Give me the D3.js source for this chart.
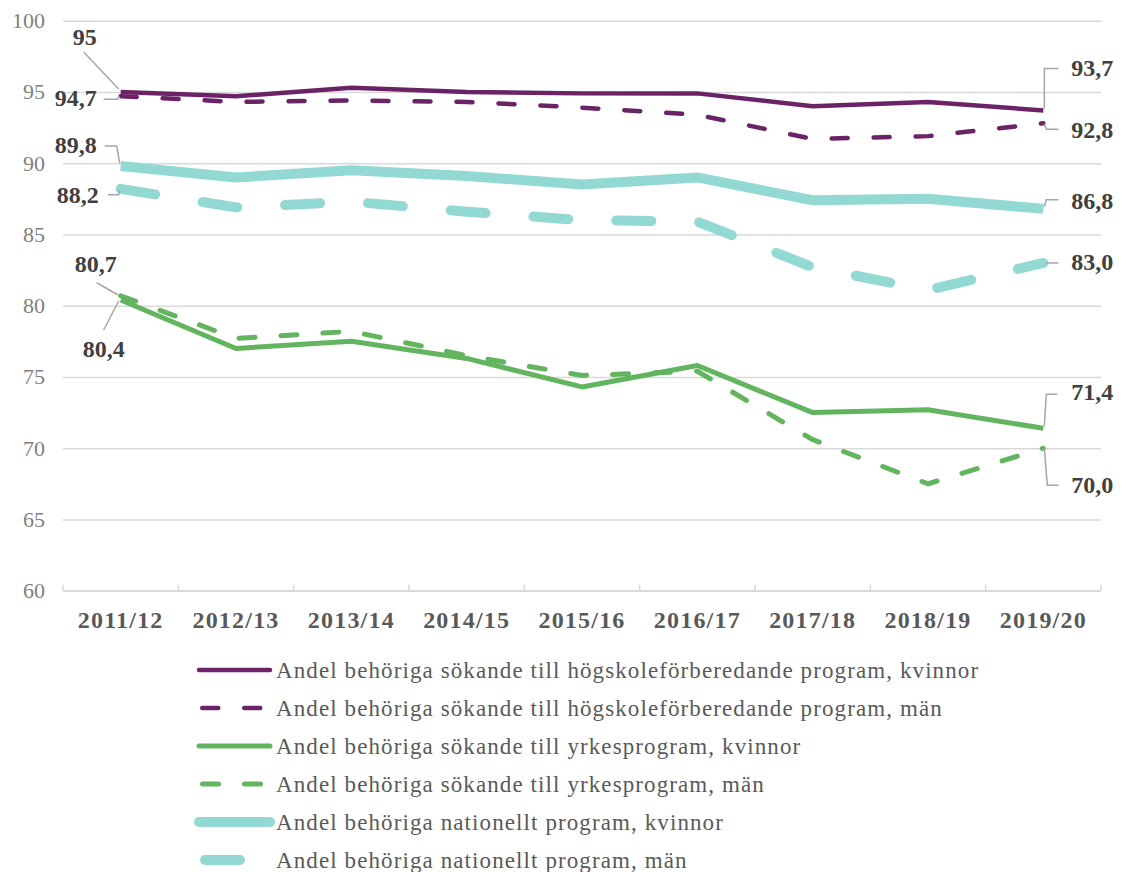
<!DOCTYPE html>
<html>
<head>
<meta charset="utf-8">
<script src="https://cdn.jsdelivr.net/npm/d3@7"></script>
<style>
  body { margin:0; background:#fff; }
  svg text { font-family: "Liberation Serif", "DejaVu Serif", serif; }
</style>
</head>
<body>
<div id="plot"></div>
<script>
//data
var categories = ['2011/12','2012/13','2013/14','2014/15','2015/16','2016/17','2017/18','2018/19','2019/20'];
var hogKvinnor = [95.0, 94.7, 95.3, 95.0, 94.9, 94.9, 94.0, 94.3, 93.7];
var hogMan     = [94.7, 94.3, 94.4, 94.3, 93.9, 93.4, 91.7, 91.9, 92.8];
var yrkKvinnor = [80.4, 77.0, 77.5, 76.3, 74.3, 75.8, 72.5, 72.7, 71.4];
var yrkMan     = [80.7, 77.7, 78.2, 76.5, 75.1, 75.4, 70.6, 67.5, 70.0];
var natKvinnor = [89.8, 89.0, 89.5, 89.1, 88.5, 89.0, 87.4, 87.5, 86.8];
var natMan     = [88.2, 86.9, 87.3, 86.6, 86.0, 85.9, 82.7, 81.1, 83.0];
var yTicks = [60, 65, 70, 75, 80, 85, 90, 95, 100];
var seriesNames = [
  'Andel behöriga sökande till högskoleförberedande program, kvinnor',
  'Andel behöriga sökande till högskoleförberedande program, män',
  'Andel behöriga sökande till yrkesprogram, kvinnor',
  'Andel behöriga sökande till yrkesprogram, män',
  'Andel behöriga nationellt program, kvinnor',
  'Andel behöriga nationellt program, män'
];
var seriesValues = [hogKvinnor, hogMan, yrkKvinnor, yrkMan, natKvinnor, natMan];

//styles per series
var styles = [
  {color:'#6b2367', w:4.5, dash:null},
  {color:'#6b2367', w:4.5, dash:'16,26'},
  {color:'#62b45f', w:5, dash:null},
  {color:'#62b45f', w:5, dash:'16,26'},
  {color:'#93d9d3', w:10, dash:null},
  {color:'#93d9d3', w:10, dash:'35,48'}
];

var W = 1127, H = 872;
var plotL = 63, plotR = 1101, plotT = 20.7, plotB = 590.7;

var svg = d3.select('#plot').append('svg')
    .attr('width', W)
    .attr('height', H);

var x = d3.scaleBand().domain(categories).range([plotL, plotR]).padding(0);
var y = d3.scaleLinear().domain([60, 100]).range([plotB, plotT]);
var cx = function(c){ return x(c) + x.bandwidth()/2; };

//gridlines + y labels
var yAxis = svg.append('g')
    .attr('transform', 'translate(' + plotL + ',0)')
    .call(d3.axisLeft(y).tickValues(yTicks).tickSize(-(plotR - plotL)).tickPadding(18));
yAxis.select('.domain').remove();
yAxis.selectAll('line').attr('stroke', '#d9d9d9').attr('stroke-width', 1.5);
yAxis.selectAll('text').attr('fill', '#7f7f7f').style('font-size', '22px');

//x axis line and inner ticks
svg.append('line')
    .attr('x1', plotL).attr('x2', plotR)
    .attr('y1', plotB).attr('y2', plotB)
    .attr('stroke', '#d9d9d9').attr('stroke-width', 1.5);
svg.selectAll('.xtick')
    .data(d3.range(categories.length + 1))
    .enter().append('line')
    .attr('x1', function(i){ return plotL + i * x.step(); })
    .attr('x2', function(i){ return plotL + i * x.step(); })
    .attr('y1', plotB - 6).attr('y2', plotB)
    .attr('stroke', '#d9d9d9').attr('stroke-width', 1.5);

var xAxis = svg.append('g')
    .attr('transform', 'translate(0,' + plotB + ')')
    .call(d3.axisBottom(x).tickSize(0).tickPadding(20));
xAxis.select('.domain').remove();
xAxis.selectAll('text')
    .attr('fill', '#595959')
    .style('font-size', '24px')
    .style('letter-spacing', '1.2px')
    .style('font-weight', 'bold');

//lines
var line = d3.line()
    .x(function(d, i){ return cx(categories[i]); })
    .y(function(d){ return y(d); });

svg.selectAll('.series')
    .data(seriesValues)
    .enter().append('path')
    .attr('class', 'series')
    .attr('d', function(d){ return line(d); })
    .attr('fill', 'none')
    .attr('stroke', function(d, i){ return styles[i].color; })
    .attr('stroke-width', function(d, i){ return styles[i].w; })
    .attr('stroke-dasharray', function(d, i){ return styles[i].dash; })
    .attr('stroke-linecap', function(d, i){ return styles[i].dash ? 'round' : 'butt'; })
    .attr('stroke-linejoin', 'round');

//data labels with leader lines (offsets from the point)
var callouts = [
  {s:0, i:0, raw:true, anchor:'middle', dx:-36, dy:-47, lead:[[-37,-40],[-2,-3]]},
  {s:1, i:0, anchor:'end', dx:-24, dy:10, lead:[[-17,3],[-3,3],[-1,0]]},
  {s:4, i:0, anchor:'end', dx:-24, dy:-13, lead:[[-16,-20],[-4,-20],[-1,-3]]},
  {s:5, i:0, anchor:'end', dx:-22, dy:14, lead:[[-13,6],[-2,6],[-1,1]]},
  {s:3, i:0, anchor:'middle', dx:-25, dy:-24, lead:[[-24,-13],[-3,-1]]},
  {s:2, i:0, anchor:'middle', dx:-17, dy:57, lead:[[-17,30],[-2,1]]},
  {s:0, i:8, anchor:'start', dx:28, dy:-34, lead:[[1,-2],[1,-42],[15,-42]]},
  {s:1, i:8, anchor:'start', dx:28, dy:15, lead:[[1,1],[3,6],[15,6]]},
  {s:4, i:8, anchor:'start', dx:28, dy:0, lead:[[1,-2],[3,-9],[15,-9]]},
  {s:5, i:8, anchor:'start', dx:28, dy:7, lead:[[3,0],[15,0]]},
  {s:2, i:8, anchor:'start', dx:28, dy:-28, lead:[[1,-2],[3,-34],[14,-34]]},
  {s:3, i:8, anchor:'start', dx:28, dy:45, lead:[[1,0],[4,37],[15,37]]}
];
var fmt = function(v){ return v.toFixed(1).replace('.', ','); };

callouts.forEach(function(c){
    var v = seriesValues[c.s][c.i];
    var px = cx(categories[c.i]), py = y(v);
    svg.append('path')
        .attr('d', d3.line()(c.lead.map(function(p){ return [px + p[0], py + p[1]]; })))
        .attr('fill', 'none')
        .attr('stroke', '#a6a6a6')
        .attr('stroke-width', 1.5);
    svg.append('text')
        .attr('x', px + c.dx)
        .attr('y', py + c.dy)
        .attr('text-anchor', c.anchor)
        .attr('fill', '#404040')
        .style('font-size', '24px')
        .style('font-weight', 'bold')
        .text(c.raw ? String(v) : fmt(v));
});

//legend
var legend = svg.append('g').attr('transform', 'translate(0,670)');
var rows = legend.selectAll('.leg')
    .data(seriesNames)
    .enter().append('g')
    .attr('transform', function(d, i){ return 'translate(0,' + (i * 38) + ')'; });

rows.append('line')
    .attr('x1', function(d, i){ return styles[i].dash ? 200 + styles[i].w/2 : 199; })
    .attr('x2', 270)
    .attr('y1', 0).attr('y2', 0)
    .attr('stroke', function(d, i){ return styles[i].color; })
    .attr('stroke-width', function(d, i){ return styles[i].w; })
    .attr('stroke-dasharray', function(d, i){ return styles[i].dash; })
    .attr('stroke-linecap', 'round');

rows.append('text')
    .attr('x', 276)
    .attr('y', 8)
    .attr('fill', '#595959')
    .style('font-size', '23px')
    .style('letter-spacing', '1.1px')
    .text(function(d){ return d; });
</script>
</body>
</html>
